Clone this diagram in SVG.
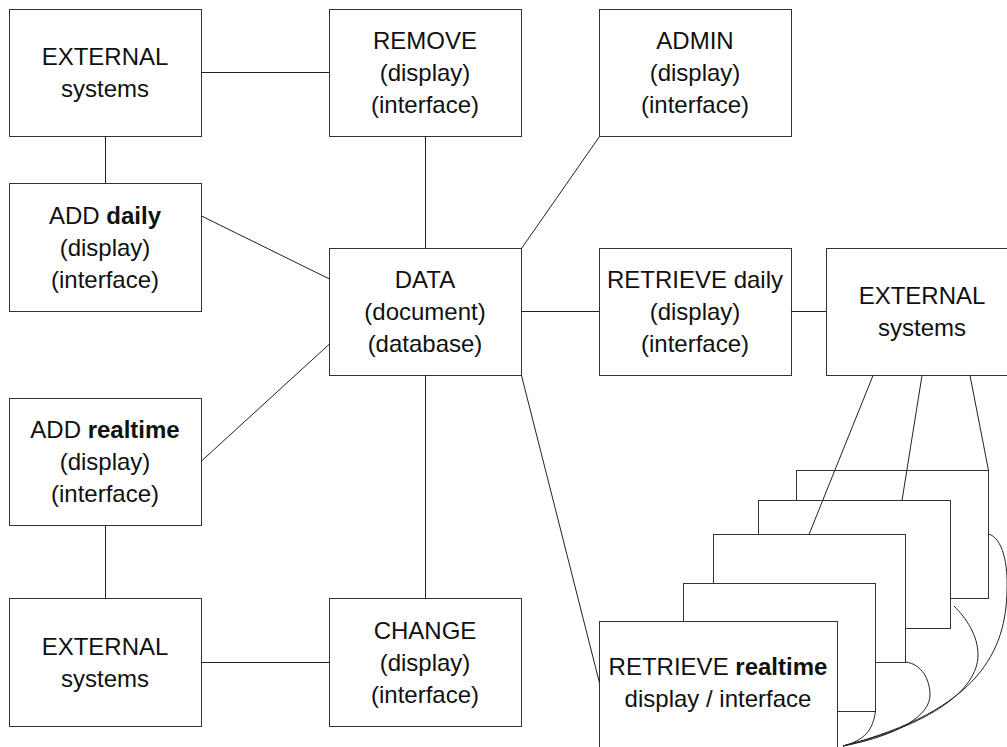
<svg xmlns="http://www.w3.org/2000/svg" width="1007" height="747" viewBox="0 0 1007 747">
<style>
.box{fill:#fff;stroke:#333;stroke-width:1}
.t{font-family:"Liberation Sans",Arial,sans-serif;font-size:24px;fill:#111;text-anchor:middle}
.b{font-weight:bold}
.c{stroke:#222;stroke-width:1;fill:none}
</style>
<rect width="1007" height="747" fill="#fff"/>
<g id="ext1"><rect class="box" x="9.5" y="9.5" width="192" height="127"/><text class="t" x="105" y="65">EXTERNAL</text><text class="t" x="105" y="97">systems</text></g>
<g id="remove"><rect class="box" x="329.5" y="9.5" width="192" height="127"/><text class="t" x="425" y="49">REMOVE</text><text class="t" x="425" y="81">(display)</text><text class="t" x="425" y="113">(interface)</text></g>
<g id="admin"><rect class="box" x="599.5" y="9.5" width="192" height="127"/><text class="t" x="695" y="49">ADMIN</text><text class="t" x="695" y="81">(display)</text><text class="t" x="695" y="113">(interface)</text></g>
<g id="addDaily"><rect class="box" x="9.5" y="183.5" width="192" height="128"/><text class="t" x="105" y="224">ADD <tspan class="b">daily</tspan></text><text class="t" x="105" y="256">(display)</text><text class="t" x="105" y="288">(interface)</text></g>
<g id="data"><rect class="box" x="329.5" y="248.5" width="192" height="127"/><text class="t" x="425" y="288">DATA</text><text class="t" x="425" y="320">(document)</text><text class="t" x="425" y="352">(database)</text></g>
<g id="retDaily"><rect class="box" x="599.5" y="248.5" width="192" height="127"/><text class="t" x="695" y="288">RETRIEVE daily</text><text class="t" x="695" y="320">(display)</text><text class="t" x="695" y="352">(interface)</text></g>
<g id="ext2"><rect class="box" x="826.5" y="248.5" width="192" height="127"/><text class="t" x="922" y="304">EXTERNAL</text><text class="t" x="922" y="336">systems</text></g>
<g id="addRealtime"><rect class="box" x="9.5" y="398.5" width="192" height="127"/><text class="t" x="105" y="438">ADD <tspan class="b">realtime</tspan></text><text class="t" x="105" y="470">(display)</text><text class="t" x="105" y="502">(interface)</text></g>
<g id="ext3"><rect class="box" x="9.5" y="598.5" width="192" height="128"/><text class="t" x="105" y="655">EXTERNAL</text><text class="t" x="105" y="687">systems</text></g>
<g id="change"><rect class="box" x="329.5" y="598.5" width="192" height="128"/><text class="t" x="425" y="639">CHANGE</text><text class="t" x="425" y="671">(display)</text><text class="t" x="425" y="703">(interface)</text></g>
<g id="stack1"><rect class="box" x="796.5" y="470.5" width="192" height="128"/></g>
<g id="stack2"><rect class="box" x="758.5" y="500.5" width="192" height="128"/></g>
<g id="stack3"><rect class="box" x="713.5" y="534.5" width="192" height="128"/></g>
<g id="stack4"><rect class="box" x="683.5" y="583.5" width="192" height="128"/></g>
<g id="retRealtime"><rect class="box" x="599.5" y="621.5" width="238" height="140"/><text class="t" x="718" y="675">RETRIEVE <tspan class="b">realtime</tspan></text><text class="t" x="718" y="707">display / interface</text></g>
<g id="connectors">
<line class="c" x1="201" y1="72.5" x2="329" y2="72.5"/>
<line class="c" x1="105.5" y1="136" x2="105.5" y2="183"/>
<line class="c" x1="425.5" y1="136" x2="425.5" y2="248"/>
<line class="c" x1="599.5" y1="136.5" x2="521.5" y2="248.5"/>
<line class="c" x1="201.5" y1="216" x2="329.5" y2="279"/>
<line class="c" x1="521" y1="311.5" x2="599" y2="311.5"/>
<line class="c" x1="791" y1="311.5" x2="826" y2="311.5"/>
<line class="c" x1="201.5" y1="461" x2="329.5" y2="344"/>
<line class="c" x1="425.5" y1="375" x2="425.5" y2="598"/>
<line class="c" x1="105.5" y1="525" x2="105.5" y2="598"/>
<line class="c" x1="201" y1="662.5" x2="329" y2="662.5"/>
<line class="c" x1="521.5" y1="375.5" x2="599.5" y2="683"/>
<line class="c" x1="873" y1="375.5" x2="809" y2="534.5"/>
<line class="c" x1="922" y1="375.5" x2="902" y2="500.5"/>
<line class="c" x1="970" y1="375.5" x2="988.5" y2="470.5"/>
<path class="c" d="M988.5,534 C1003,538 1008,565 1007,590 C1006,650 980,710 843,746"/>
<path class="c" d="M954,606 C966,618 978,635 978,655 C978,690 930,725 843,746"/>
<path class="c" d="M905.5,662 C922,664 930,680 930,695 C930,715 900,735 843,746"/>
<path class="c" d="M875.5,711 C873,730 865,740 843,746"/>
</g>
</svg>
